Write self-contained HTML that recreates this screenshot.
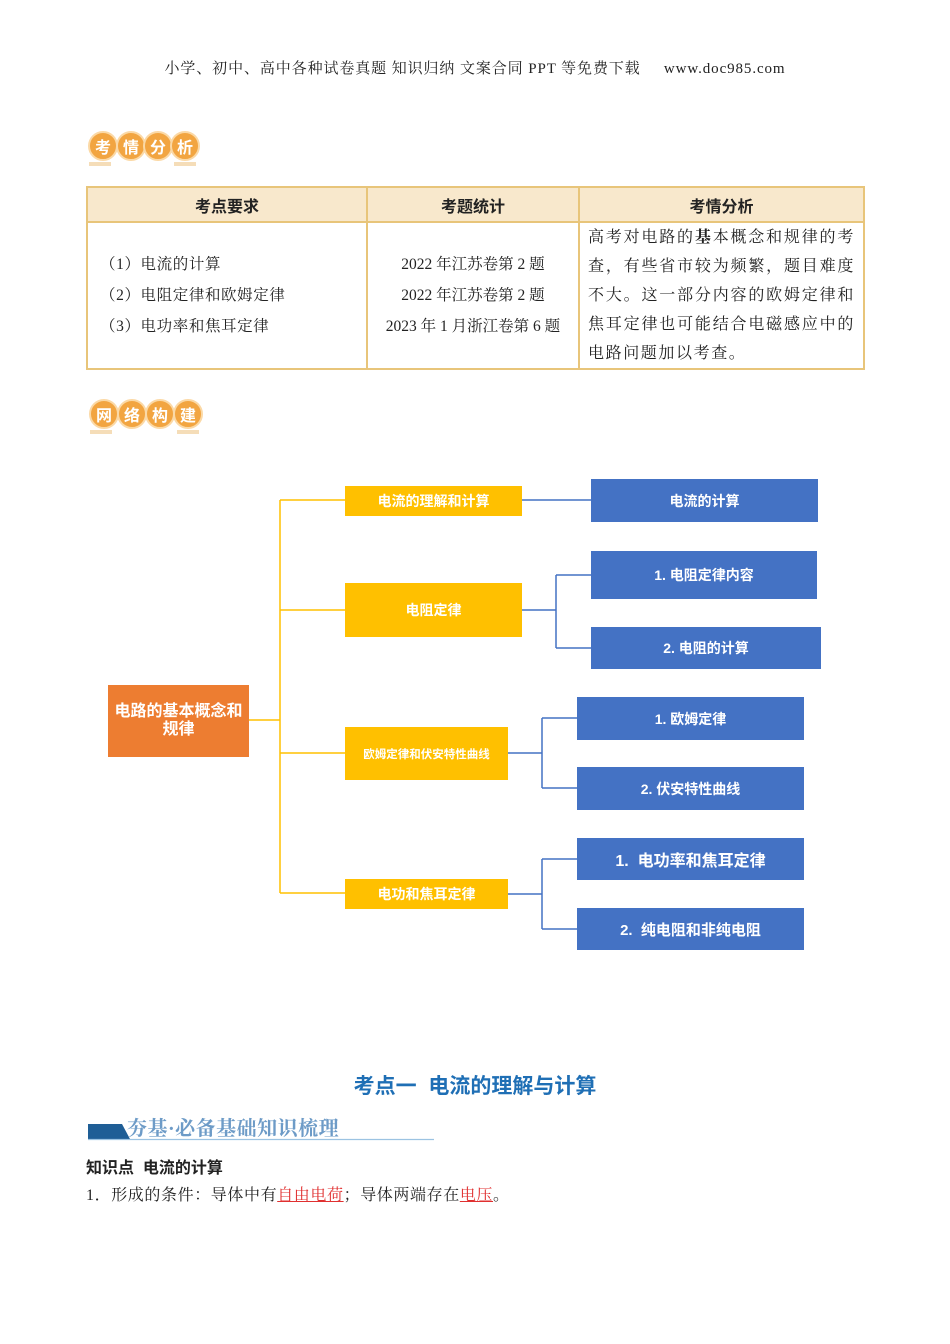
<!DOCTYPE html>
<html><head><meta charset="utf-8"><style>
body{margin:0;width:950px;height:1344px;background:#fff;position:relative;font-family:"Liberation Serif","Noto Serif CJK SC",serif;color:#222;overflow:hidden}
.a{position:absolute}
.s{font-family:"Liberation Sans","Noto Sans CJK SC",sans-serif}
.yb{position:absolute;background:#FFC000;color:#fff;font-weight:bold;display:flex;align-items:center;justify-content:center;font-family:"Liberation Sans","Noto Sans CJK SC",sans-serif;font-size:14px}
.bb{position:absolute;background:#4472C4;color:#fff;font-weight:bold;display:flex;align-items:center;justify-content:center;font-family:"Liberation Sans","Noto Sans CJK SC",sans-serif;font-size:14px}
.c{position:absolute;width:30px;height:30px;border-radius:50%;background:#F2A541;border:2px solid #FBD9A6;box-sizing:border-box;color:#fff;font-weight:bold;font-size:16px;display:flex;align-items:center;justify-content:center;font-family:"Liberation Sans","Noto Sans CJK SC",sans-serif}
table{border-collapse:collapse}
td{border:2px solid #E8C57A;padding:0}
</style></head><body>
<div class="a" style="left:0;width:950px;top:57px;text-align:center;font-size:15px;letter-spacing:0.9px">小学、初中、高中各种试卷真题 知识归纳 文案合同 PPT 等免费下载 &nbsp;&nbsp;&nbsp;&nbsp;www.doc985.com</div>

<div class="c" style="left:88px;top:131px">考</div><div class="c" style="left:116px;top:131px">情</div><div class="c" style="left:143px;top:131px">分</div><div class="c" style="left:170px;top:131px">析</div>
<div class="a" style="left:89px;top:162px;width:22px;height:4px;background:#F5DDB8"></div><div class="a" style="left:174px;top:162px;width:22px;height:4px;background:#F5DDB8"></div>

<table class="a" style="left:86px;top:186px;width:779px;height:181px">
<tr style="height:35px;background:#F8E8CC;font-weight:bold;font-size:16px" class="s"><td style="width:278px;text-align:center" class="s">考点要求</td><td style="width:210px;text-align:center" class="s">考题统计</td><td style="text-align:center" class="s">考情分析</td></tr>
<tr style="font-size:15.5px"><td style="padding-left:12px;line-height:31px;letter-spacing:0.6px">（1）电流的计算<br>（2）电阻定律和欧姆定律<br>（3）电功率和焦耳定律</td>
<td style="text-align:center;line-height:31px">2022 年江苏卷第 2 题<br>2022 年江苏卷第 2 题<br>2023 年 1 月浙江卷第 6 题</td>
<td style="padding:0 8px;line-height:29px;font-size:16px;letter-spacing:1.6px;text-align:justify">高考对电路的<b>基</b>本概念和规律的考查，有些省市较为频繁，题目难度不大。这一部分内容的欧姆定律和焦耳定律也可能结合电磁感应中的电路问题加以考查。</td></tr>
</table>

<div class="c" style="left:89px;top:399px">网</div><div class="c" style="left:117px;top:399px">络</div><div class="c" style="left:145px;top:399px">构</div><div class="c" style="left:173px;top:399px">建</div>
<div class="a" style="left:90px;top:430px;width:22px;height:4px;background:#F5DDB8"></div><div class="a" style="left:177px;top:430px;width:22px;height:4px;background:#F5DDB8"></div>

<svg class="a" style="left:0;top:0" width="950" height="1000">
<g stroke="#FFC000" stroke-width="1.5" fill="none">
<path d="M248 720H280M280 500V893M280 500H345M280 610H345M280 753H345M280 893H345"/>
</g>
<g stroke="#4472C4" stroke-width="1.5" fill="none">
<path d="M522 500H591"/>
<path d="M522 610H556M556 575V648M556 575H591M556 648H591"/>
<path d="M508 753H542M542 718V788M542 718H577M542 788H577"/>
<path d="M508 894H542M542 859V929M542 859H577M542 929H577"/>
</g>
</svg>

<div class="a s" style="left:108px;top:685px;width:141px;height:72px;background:#ED7D31;color:#fff;font-weight:bold;font-size:16px;display:flex;align-items:center;justify-content:center;text-align:center;line-height:18px">电路的基本概念和规律</div>

<div class="yb" style="left:345px;top:486px;width:177px;height:30px">电流的理解和计算</div>
<div class="yb" style="left:345px;top:583px;width:177px;height:54px">电阻定律</div>
<div class="yb" style="left:345px;top:727px;width:163px;height:53px;font-size:11.5px">欧姆定律和伏安特性曲线</div>
<div class="yb" style="left:345px;top:879px;width:163px;height:30px">电功和焦耳定律</div>

<div class="bb" style="left:591px;top:479px;width:227px;height:43px">电流的计算</div>
<div class="bb" style="left:591px;top:551px;width:226px;height:48px">1. 电阻定律内容</div>
<div class="bb" style="left:591px;top:627px;width:230px;height:42px">2. 电阻的计算</div>
<div class="bb" style="left:577px;top:697px;width:227px;height:43px">1. 欧姆定律</div>
<div class="bb" style="left:577px;top:767px;width:227px;height:43px">2. 伏安特性曲线</div>
<div class="bb" style="left:577px;top:838px;width:227px;height:42px;font-size:16px">1.&nbsp; 电功率和焦耳定律</div>
<div class="bb" style="left:577px;top:908px;width:227px;height:42px;font-size:15px">2.&nbsp; 纯电阻和非纯电阻</div>

<div class="a s" style="left:0;width:950px;top:1070px;text-align:center;font-size:21px;font-weight:bold;color:#1F6FB5">考点一&nbsp; 电流的理解与计算</div>
<svg class="a" style="left:86px;top:1118px" width="350" height="24"><polygon points="2,6 36,6 44,21 2,21" fill="#1F5E96"/><line x1="2" y1="21.5" x2="348" y2="21.5" stroke="#9CC3E2" stroke-width="1.2"/></svg>
<div class="a" style="left:127px;top:1112px;font-size:20px;letter-spacing:0.5px;font-weight:bold;color:#6D9BC7;font-family:'Liberation Serif','Noto Serif CJK SC',serif">夯基·必备基础知识梳理</div>
<div class="a s" style="left:86px;top:1154px;font-size:16px;font-weight:bold">知识点&nbsp; 电流的计算</div>
<div class="a" style="left:86px;top:1182px;font-size:16px;letter-spacing:0.6px">1．形成的条件：导体中有<span style="color:#E03030;text-decoration:underline">自由电荷</span>；导体两端存在<span style="color:#E03030;text-decoration:underline">电压</span>。</div>
</body></html>
